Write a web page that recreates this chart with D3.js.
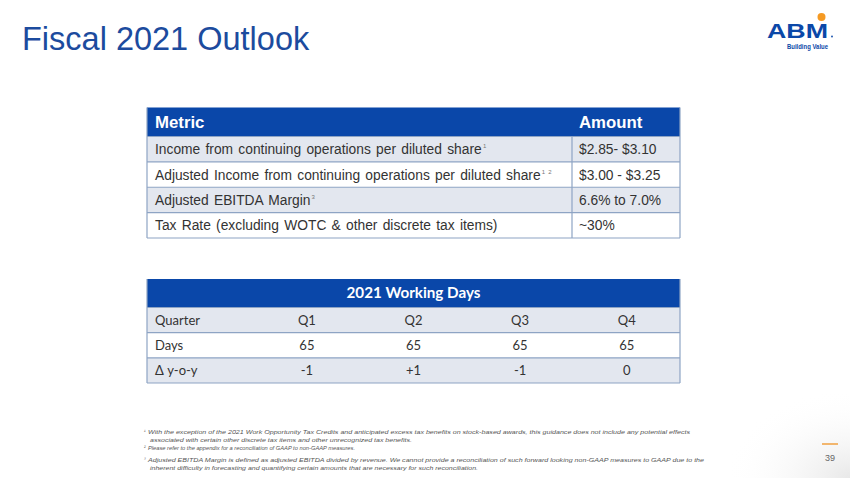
<!DOCTYPE html>
<html>
<head>
<meta charset="utf-8">
<script src="https://cdn.jsdelivr.net/npm/d3@7"></script>
<style>
  body { margin: 0; background: #fff; }
  svg { display: block; }
</style>
</head>
<body>
<div class="canvas"></div>
<script>
// outlook table
const metricHead = ['Metric', 'Amount'];
const metrics = [
  'Income from continuing operations per diluted share',
  'Adjusted Income from continuing operations per diluted share',
  'Adjusted EBITDA Margin',
  'Tax Rate (excluding WOTC & other discrete tax items)'
];
const metricNotes = ['1', '1 2', '3', ''];
const amounts = ['$2.85- $3.10', '$3.00 - $3.25', '6.6% to 7.0%', '~30%'];

// working days table
const daysTitle = '2021 Working Days';
const quarters = ['Q1', 'Q2', 'Q3', 'Q4'];
const dayRows = ['Quarter', 'Days', 'Δ y-o-y'];
const days = [65, 65, 65, 65];
const yoy = ['-1', '+1', '-1', '0'];

const footnotes = [
  ['¹', 'With the exception of the 2021 Work Opportunity Tax Credits and anticipated excess tax benefits on stock-based awards, this guidance does not include any potential effects', 542],
  ['', 'associated with certain other discrete tax items and other unrecognized tax benefits.', 262],
  ['²', 'Please refer to the appendix for a reconciliation of GAAP to non-GAAP measures.', 207],
  ['³', 'Adjusted EBITDA Margin is defined as adjusted EBITDA divided by revenue. We cannot provide a reconciliation of such forward looking non-GAAP measures to GAAP due to the', 556],
  ['', 'inherent difficulty in forecasting and quantifying certain amounts that are necessary for such reconciliation.', 328]
];

const W = 850, H = 478;
const blue = '#0a47a9';
const band = '#e3e7ef';
const rule = '#8ea4c4';

const svg = d3.select('.canvas')
  .append('svg')
  .attr('width', W)
  .attr('height', H);

// faint corner shading bottom right
const grad = svg.append('defs').append('radialGradient')
  .attr('id', 'corner').attr('cx', 1).attr('cy', 1).attr('r', 0.5);
grad.append('stop').attr('offset', 0).attr('stop-color', '#e8e8e8');
grad.append('stop').attr('offset', 1).attr('stop-color', '#fff').attr('stop-opacity', 0);
svg.append('rect').attr('x', 600).attr('y', 300).attr('width', 250).attr('height', 178)
  .attr('fill', 'url(#corner)');

// title
svg.append('text')
  .attr('x', 22).attr('y', 50)
  .attr('font-family', 'Liberation Sans, Arial, sans-serif')
  .attr('font-size', 32.5)
  .attr('fill', '#1c4b9e')
  .text('Fiscal 2021 Outlook');

// logo
const logo = svg.append('g').attr('font-family', 'Liberation Sans, Arial, sans-serif');
logo.append('text').attr('x', 767).attr('y', 37.5)
  .attr('font-size', 21).attr('font-weight', 'bold').attr('fill', '#0b48a8')
  .attr('textLength', 61).attr('lengthAdjust', 'spacingAndGlyphs')
  .text('ABM');
logo.append('circle').attr('cx', 821.5).attr('cy', 17).attr('r', 4).attr('fill', '#f59a23');
logo.append('circle').attr('cx', 832).attr('cy', 36.5).attr('r', 0.9).attr('fill', '#0b48a8');
logo.append('text').attr('x', 787).attr('y', 48.5)
  .attr('font-size', 6.5).attr('font-weight', 'bold').attr('fill', '#0b48a8')
  .attr('textLength', 41).attr('lengthAdjust', 'spacingAndGlyphs')
  .text('Building Value');

// ---- outlook table ----
const t1 = { x0: 147, x1: 680, split: 572, top: 107.5, head: 136.5, bottom: 238 };
const y1 = d3.scaleBand().domain(d3.range(metrics.length)).range([t1.head, t1.bottom]);
const g1 = svg.append('g').attr('font-family', 'Liberation Sans, Arial, sans-serif');

g1.append('rect')
  .attr('x', t1.x0).attr('y', t1.top)
  .attr('width', t1.x1 - t1.x0).attr('height', t1.head - t1.top)
  .attr('fill', blue);
g1.selectAll('text.head')
  .data(metricHead)
  .join('text')
  .attr('class', 'head')
  .attr('x', (d, i) => i === 0 ? t1.x0 + 8 : t1.split + 7)
  .attr('y', t1.top + 20.5)
  .attr('fill', '#fff').attr('font-size', 16.8).attr('font-weight', 'bold')
  .text(d => d);

const r1 = g1.selectAll('g.row')
  .data(metrics)
  .join('g')
  .attr('class', 'row')
  .attr('transform', (d, i) => `translate(0,${y1(i)})`);
r1.append('rect')
  .attr('x', t1.x0).attr('width', t1.x1 - t1.x0)
  .attr('height', y1.bandwidth())
  .attr('fill', (d, i) => i % 2 === 0 ? band : '#fff');
r1.append('text')
  .attr('x', t1.x0 + 8).attr('y', y1.bandwidth() / 2 + 5)
  .attr('font-size', 13.8).attr('word-spacing', 1.4).attr('fill', '#333')
  .text(d => d)
  .append('tspan')
  .attr('font-size', 6).attr('dy', -6).attr('fill', '#777')
  .text((d, i) => metricNotes[i] ? '\u2009' + metricNotes[i] : '');
r1.append('text')
  .attr('x', t1.split + 7).attr('y', y1.bandwidth() / 2 + 5)
  .attr('font-size', 13.8).attr('fill', '#333')
  .text((d, i) => amounts[i]);

// rules of table 1
g1.selectAll('line.h')
  .data(d3.range(metrics.length + 1))
  .join('line')
  .attr('class', 'h')
  .attr('x1', t1.x0).attr('x2', t1.x1)
  .attr('y1', i => i === metrics.length ? t1.bottom : y1(i))
  .attr('y2', i => i === metrics.length ? t1.bottom : y1(i))
  .attr('stroke', rule).attr('stroke-width', 1.2);
g1.selectAll('line.v')
  .data([t1.x0, t1.split, t1.x1])
  .join('line')
  .attr('class', 'v')
  .attr('x1', d => d).attr('x2', d => d)
  .attr('y1', (d, i) => i === 1 ? t1.head : t1.top).attr('y2', t1.bottom)
  .attr('stroke', rule).attr('stroke-width', 1.2);

// ---- working days table ----
const t2 = { x0: 147, x1: 680, top: 279, head: 307.5, bottom: 383 };
const cols = ['label'].concat(quarters);
const x2 = d3.scaleBand().domain(cols).range([t2.x0, t2.x1]);
const y2 = d3.scaleBand().domain(dayRows).range([t2.head, t2.bottom]);
const cells = [quarters, days, yoy];
const g2 = svg.append('g').attr('font-family', 'Lato, Open Sans, sans-serif');

g2.append('rect')
  .attr('x', t2.x0).attr('y', t2.top)
  .attr('width', t2.x1 - t2.x0).attr('height', t2.head - t2.top)
  .attr('fill', blue);
g2.append('text')
  .attr('x', (t2.x0 + t2.x1) / 2).attr('y', t2.top + 19)
  .attr('text-anchor', 'middle')
  .attr('fill', '#fff').attr('font-size', 15.2).attr('font-weight', 'bold')
  .text(daysTitle);

const r2 = g2.selectAll('g.row')
  .data(dayRows)
  .join('g')
  .attr('class', 'row')
  .attr('transform', d => `translate(0,${y2(d)})`);
r2.append('rect')
  .attr('x', t2.x0).attr('width', t2.x1 - t2.x0)
  .attr('height', y2.bandwidth())
  .attr('fill', (d, i) => i % 2 === 0 ? band : '#fff');
r2.append('text')
  .attr('x', t2.x0 + 8).attr('y', y2.bandwidth() / 2 + 4.5)
  .attr('font-size', 13).attr('fill', '#333')
  .text(d => d);
r2.each(function(d, ri) {
  d3.select(this).selectAll('text.cell')
    .data(cells[ri])
    .join('text')
    .attr('class', 'cell')
    .attr('x', (v, ci) => x2(quarters[ci]) + x2.bandwidth() / 2)
    .attr('y', y2.bandwidth() / 2 + 4.5)
    .attr('text-anchor', 'middle')
    .attr('font-size', 13).attr('fill', '#333')
    .text(v => v);
});

g2.selectAll('line.h')
  .data([t2.head].concat(dayRows.slice(1).map(d => y2(d)), [t2.bottom]))
  .join('line')
  .attr('class', 'h')
  .attr('x1', t2.x0).attr('x2', t2.x1)
  .attr('y1', d => d).attr('y2', d => d)
  .attr('stroke', rule).attr('stroke-width', 1.2);
g2.selectAll('line.v')
  .data([t2.x0, t2.x1])
  .join('line')
  .attr('class', 'v')
  .attr('x1', d => d).attr('x2', d => d)
  .attr('y1', t2.top).attr('y2', t2.bottom)
  .attr('stroke', rule).attr('stroke-width', 1.2);

// footnotes
const fy = [434, 441.5, 450, 462, 469.5];
const fn = svg.append('g')
  .attr('font-family', 'Liberation Sans, Arial, sans-serif')
  .attr('font-style', 'italic').attr('fill', '#555');
fn.selectAll('text.mark')
  .data(footnotes.filter(d => d[0]))
  .join('text')
  .attr('class', 'mark')
  .attr('x', 144).attr('y', (d, i) => fy[[0, 2, 3][i]] - 1)
  .attr('font-size', 4.5)
  .text(d => d[0]);
fn.selectAll('text.line')
  .data(footnotes)
  .join('text')
  .attr('class', 'line')
  .attr('x', (d, i) => d[0] ? 148 : 150)
  .attr('y', (d, i) => fy[i])
  .attr('font-size', 6)
  .attr('textLength', d => d[2])
  .attr('lengthAdjust', 'spacingAndGlyphs')
  .text(d => d[1]);

// page number
svg.append('line')
  .attr('x1', 822).attr('x2', 838).attr('y1', 444).attr('y2', 444)
  .attr('stroke', '#f0a040').attr('stroke-width', 1.5);
svg.append('text')
  .attr('x', 830).attr('y', 461)
  .attr('text-anchor', 'middle')
  .attr('font-family', 'Liberation Sans, Arial, sans-serif')
  .attr('font-size', 9).attr('fill', '#666')
  .text('39');
</script>
</body>
</html>
